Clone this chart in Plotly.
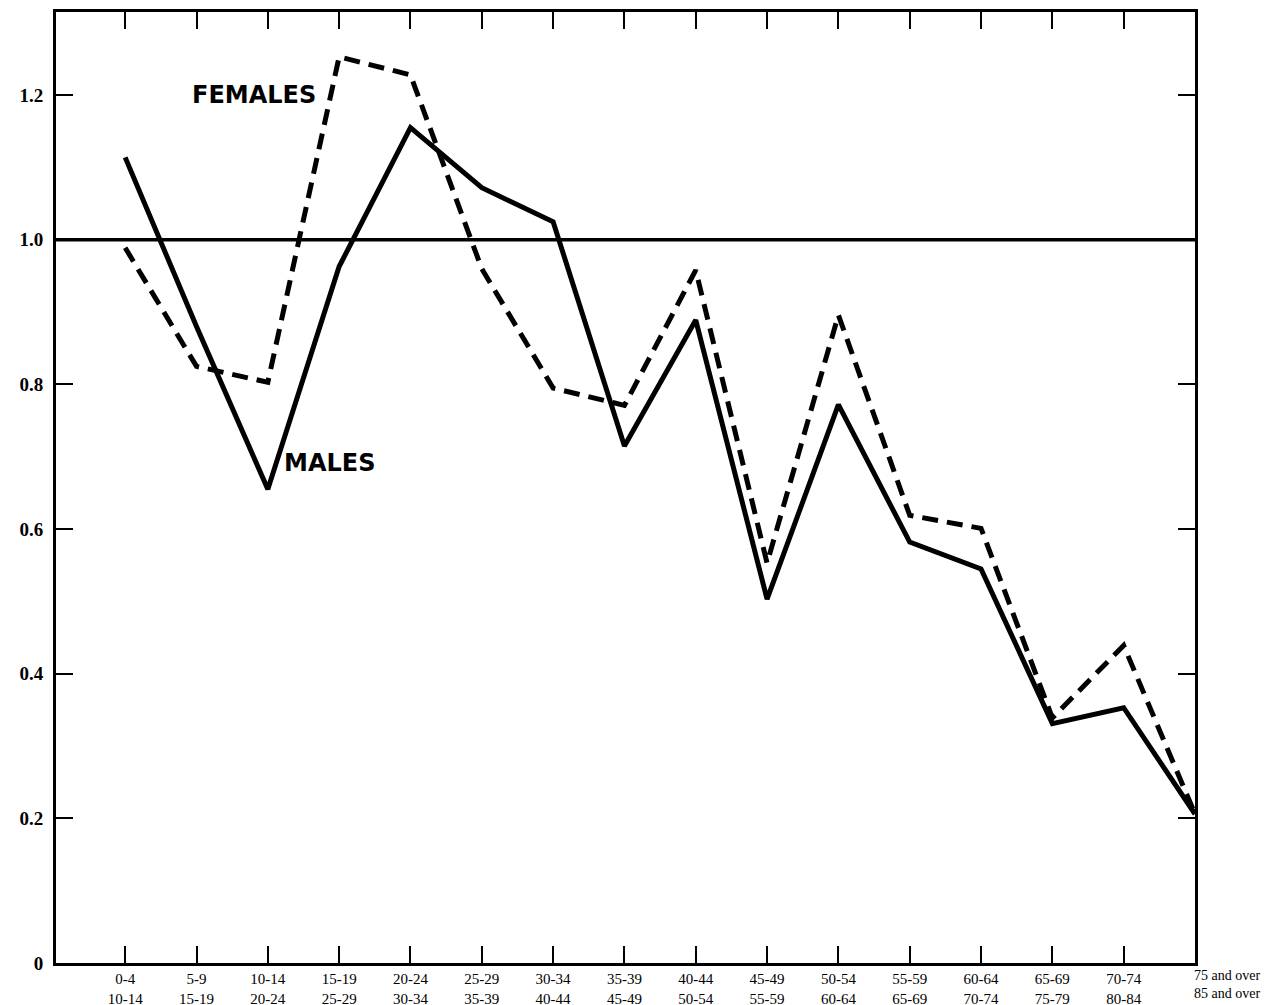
import plotly.graph_objects as go

# ---- data ----
age_top = ["0-4", "5-9", "10-14", "15-19", "20-24", "25-29", "30-34", "35-39",
           "40-44", "45-49", "50-54", "55-59", "60-64", "65-69", "70-74", "75 and over"]
age_bottom = ["10-14", "15-19", "20-24", "25-29", "30-34", "35-39", "40-44", "45-49",
              "50-54", "55-59", "60-64", "65-69", "70-74", "75-79", "80-84", "85 and over"]
males = [1.114, 0.88, 0.655, 0.963, 1.155, 1.072, 1.025, 0.715,
         0.889, 0.503, 0.772, 0.582, 0.545, 0.331, 0.353, 0.206]
females = [0.989, 0.825, 0.803, 1.253, 1.228, 0.96, 0.795, 0.771,
           0.958, 0.553, 0.896, 0.619, 0.601, 0.339, 0.439, 0.206]
y_ticks = [0, 0.2, 0.4, 0.6, 0.8, 1.0, 1.2]
y_ticktext = ["0", "0.2", "0.4", "0.6", "0.8", "1.0", "1.2"]
reference_level = 1.0

xs = list(range(len(age_top)))

fig = go.Figure()
fig.add_trace(go.Scatter(x=xs, y=females, mode="lines", name="FEMALES",
                         line=dict(color="black", width=5, dash="16px,9px")))
fig.add_trace(go.Scatter(x=xs, y=males, mode="lines", name="MALES",
                         line=dict(color="black", width=5)))

fig.add_shape(type="line", xref="paper", x0=0, x1=1, yref="y",
              y0=reference_level, y1=reference_level,
              line=dict(color="black", width=3.5))

ticktext = [f"{a}<br>{b}" for a, b in zip(age_top[:-1], age_bottom[:-1])]

fig.update_xaxes(range=[-0.97, len(age_top) - 1], tickmode="array",
                 tickvals=xs[:-1], ticktext=ticktext, automargin=False,
                 ticks="inside", ticklen=17, tickwidth=2, tickcolor="black",
                 showline=True, linecolor="black", linewidth=3, mirror="ticks",
                 showgrid=False, zeroline=False,
                 tickfont=dict(family="Liberation Serif", size=15, color="black"))
fig.update_yaxes(range=[0, 1.315], tickmode="array", tickvals=y_ticks,
                 ticktext=[f"<b>{t}</b>" for t in y_ticktext], automargin=False,
                 ticks="inside", ticklen=17, tickwidth=2, tickcolor="black",
                 showline=True, linecolor="black", linewidth=3, mirror="ticks",
                 showgrid=False, zeroline=False, ticklabelstandoff=6,
                 tickfont=dict(family="Liberation Serif", size=19, color="black"))

fig.add_annotation(x=len(age_top) - 1, xref="x", y=0, yref="paper",
                   text=f"{age_top[-1]}<br>{age_bottom[-1]}", showarrow=False,
                   xanchor="left", yanchor="top", yshift=-3, xshift=-3, align="left",
                   font=dict(family="Liberation Serif", size=14, color="black"))

fig.add_annotation(x=1.8, y=1.2, xref="x", yref="y", text="<b>FEMALES</b>",
                   showarrow=False, font=dict(family="DejaVu Sans", size=24, color="black"))
fig.add_annotation(x=2.87, y=0.692, xref="x", yref="y", text="<b>MALES</b>",
                   showarrow=False, font=dict(family="DejaVu Sans", size=24, color="black"))

fig.update_layout(width=1262, height=997, showlegend=False, template="none",
                  paper_bgcolor="white", plot_bgcolor="white",
                  margin=dict(l=48, r=75, t=4, b=42))

fig.write_html("out.html")
